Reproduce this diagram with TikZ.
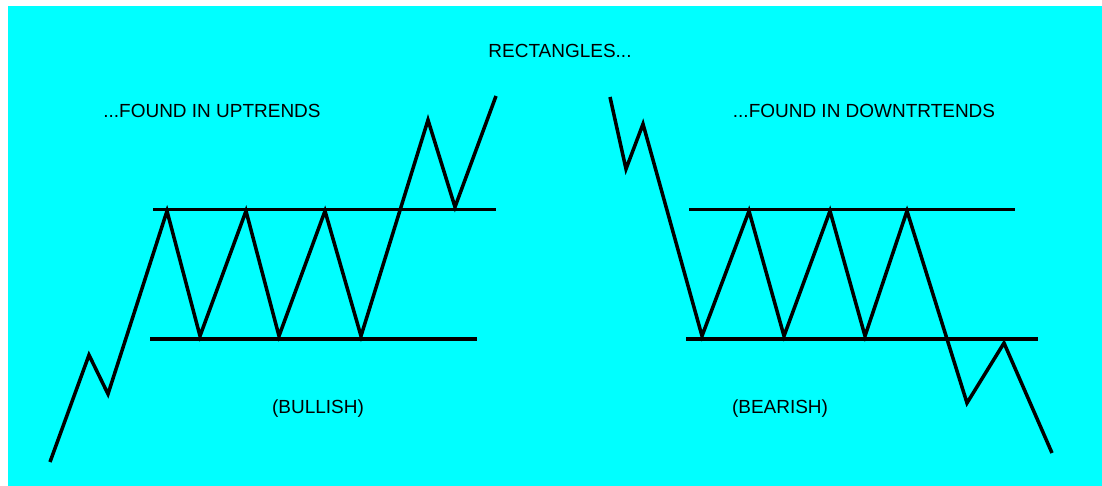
\documentclass[tikz,border=0pt]{standalone}
\usepackage{fontspec}
\setmainfont{Liberation Sans}
\usetikzlibrary{positioning}
\definecolor{chartbg}{HTML}{00FFFF}

\begin{document}
\begin{tikzpicture}[x=0.02cm,y=-0.02cm,
 price/.style={line width=2pt,line join=miter,black},
 level/.style={line width=2.2pt,black},
 lab/.style={font=\fontsize{10.8}{12}\selectfont,inner sep=0pt,anchor=center}]
\useasboundingbox (0,0) rectangle (1102,486);
\fill[white] (0,0) rectangle (1102,486);
\fill[chartbg] (8,6) rectangle (1102,486);
\node[lab] (title) at (560,51) {RECTANGLES...};
\node[lab] (upt) at (212,111) {...FOUND IN UPTRENDS};
\node[lab] (dnt) at (864,111) {...FOUND IN DOWNTRTENDS};
\node[lab] (bull) at (318,409) {(BULLISH)};
\node[lab] (bear) at (780,409) {(BEARISH)};
% uptrend rectangle
\coordinate (ut1) at (153,209.5); \coordinate (ut2) at (496,209.5);
\coordinate (ub1) at (150,339);   \coordinate (ub2) at (477,339);
\draw[level] (ut1) -- (ut2);
\draw[level] (ub1) -- (ub2);
\draw[price] (50,462) -- (89,355) -- (108,394) -- (167,211) -- (200,336)
  -- (246,211) -- (279,336) -- (325,211) -- (361,336) -- (428,120)
  -- (455,207) -- (496,96);
% downtrend rectangle
\coordinate (dt1) at (689,209.5); \coordinate (dt2) at (1015,209.5);
\coordinate (db1) at (686,339);   \coordinate (db2) at (1038,339);
\draw[level] (dt1) -- (dt2);
\draw[level] (db1) -- (db2);
\draw[price] (610,97) -- (626,169) -- (643,124) -- (702,336) -- (749,211)
  -- (784,336) -- (830,211) -- (865,336) -- (907,211) -- (967,403)
  -- (1004,343) -- (1052,453);
\end{tikzpicture}
\end{document}
